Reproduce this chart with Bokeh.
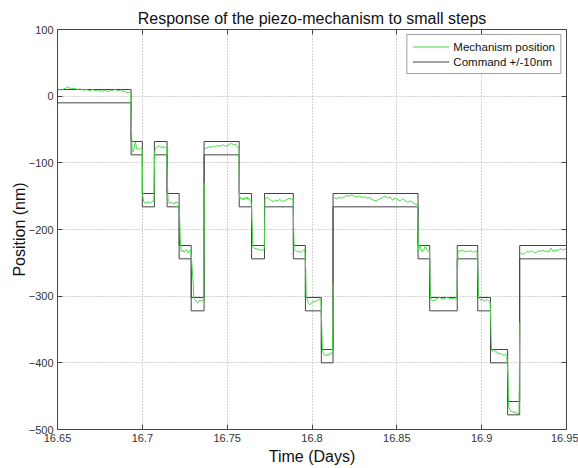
import numpy as np
from bokeh.plotting import figure
from bokeh.models import (LinearAxis, Range1d, FixedTicker, Legend, LegendItem,
                          ColumnDataSource)
from bokeh.embed import file_html
from bokeh.resources import INLINE

# ---------------- data ----------------
title_text = "Response of the piezo-mechanism to small steps"
x_label = "Time (Days)"
y_label = "Position (nm)"
x_ticks = [16.65, 16.7, 16.75, 16.8, 16.85, 16.9, 16.95]
x_tick_labels = ["16.65", "16.7", "16.75", "16.8", "16.85", "16.9", "16.95"]
y_ticks = [100, 0, -100, -200, -300, -400, -500]

# command step boundaries (days) and commanded levels (nm)
step_times = [16.65, 16.6934, 16.7000, 16.7071, 16.7146, 16.7217, 16.7288, 16.7364,
              16.7571, 16.7644, 16.7720, 16.7890, 16.7961, 16.8055, 16.8124, 16.8625,
              16.8694, 16.8856, 16.8977, 16.9052, 16.9153, 16.9224, 16.95]
command_nm = [0, -78, -156, -78, -156, -234, -312, -78, -156, -234, -156, -234,
              -312, -390, -156, -234, -312, -234, -312, -390, -468, -234]
band_nm = 10

mech_t = [
    16.6500, 16.6512, 16.6524, 16.6536, 16.6548, 16.6560, 16.6572, 16.6584, 16.6596, 16.6608,
    16.6620, 16.6632, 16.6644, 16.6656, 16.6668, 16.6680, 16.6692, 16.6704, 16.6716, 16.6728,
    16.6740, 16.6752, 16.6764, 16.6776, 16.6788, 16.6800, 16.6812, 16.6824, 16.6836, 16.6848,
    16.6860, 16.6872, 16.6884, 16.6896, 16.6908, 16.6920, 16.6932,
    16.6937, 16.6940, 16.6943, 16.6950, 16.6956, 16.6960, 16.6964, 16.6970, 16.6976, 16.6982,
    16.6988, 16.6994, 16.6999,
    16.7003, 16.7008, 16.7014, 16.7020, 16.7026, 16.7032, 16.7038, 16.7044, 16.7050, 16.7056,
    16.7062, 16.7068,
    16.7073, 16.7077, 16.7084, 16.7091, 16.7098, 16.7105, 16.7112, 16.7119, 16.7126, 16.7133,
    16.7143,
    16.7148, 16.7152, 16.7158, 16.7164, 16.7170, 16.7176, 16.7182, 16.7188, 16.7194, 16.7200,
    16.7206, 16.7214,
    16.7219, 16.7224, 16.7228, 16.7234, 16.7240, 16.7246, 16.7252, 16.7258, 16.7264, 16.7270,
    16.7276, 16.7284,
    16.7290, 16.7295, 16.7300, 16.7304, 16.7310, 16.7316, 16.7322, 16.7328, 16.7334, 16.7340,
    16.7346, 16.7352, 16.7358, 16.7362,
    16.7365, 16.7366, 16.7368,
    16.7382, 16.7394, 16.7406, 16.7418, 16.7430, 16.7442, 16.7454, 16.7466, 16.7478, 16.7490,
    16.7502, 16.7514, 16.7526, 16.7538, 16.7550, 16.7562, 16.7570,
    16.7573, 16.7575, 16.7581, 16.7587, 16.7593, 16.7599, 16.7605, 16.7611, 16.7617, 16.7623,
    16.7629, 16.7635, 16.7641,
    16.7647, 16.7652, 16.7658, 16.7664, 16.7670, 16.7676, 16.7682, 16.7688, 16.7694, 16.7700,
    16.7706, 16.7712, 16.7718,
    16.7721, 16.7723, 16.7726, 16.7738, 16.7750, 16.7762, 16.7774, 16.7786, 16.7798, 16.7810,
    16.7822, 16.7834, 16.7846, 16.7858, 16.7870, 16.7882, 16.7888,
    16.7892, 16.7895, 16.7897, 16.7903, 16.7909, 16.7915, 16.7921, 16.7927, 16.7933, 16.7939,
    16.7945, 16.7951, 16.7957,
    16.7963, 16.7966, 16.7968, 16.7974, 16.7980, 16.7986, 16.7992, 16.7998, 16.8004, 16.8010,
    16.8016, 16.8022, 16.8028, 16.8034, 16.8040, 16.8046, 16.8052,
    16.8057, 16.8062, 16.8068, 16.8074, 16.8080, 16.8086, 16.8092, 16.8098, 16.8104, 16.8110,
    16.8116, 16.8122,
    16.8125, 16.8127, 16.8129,
    16.8145, 16.8160, 16.8175, 16.8190, 16.8205, 16.8220, 16.8235, 16.8250, 16.8265, 16.8280,
    16.8295, 16.8310, 16.8325, 16.8340, 16.8355, 16.8370, 16.8385, 16.8400, 16.8415, 16.8430,
    16.8445, 16.8460, 16.8475, 16.8490, 16.8505, 16.8520, 16.8535, 16.8550, 16.8565, 16.8580,
    16.8595, 16.8610, 16.8622,
    16.8628, 16.8633, 16.8638, 16.8643, 16.8648, 16.8653, 16.8658, 16.8663, 16.8668, 16.8673,
    16.8680, 16.8686, 16.8692,
    16.8696, 16.8699, 16.8700, 16.8712, 16.8724, 16.8736, 16.8748, 16.8760, 16.8772, 16.8784,
    16.8796, 16.8808, 16.8820, 16.8832, 16.8844, 16.8854,
    16.8858, 16.8861, 16.8862, 16.8872, 16.8882, 16.8892, 16.8902, 16.8912, 16.8922, 16.8932,
    16.8942, 16.8952, 16.8962, 16.8972,
    16.8979, 16.8982, 16.8983, 16.8990, 16.8997, 16.9004, 16.9011, 16.9018, 16.9025, 16.9032,
    16.9039, 16.9046, 16.9050,
    16.9054, 16.9058, 16.9064, 16.9070, 16.9076, 16.9082, 16.9088, 16.9094, 16.9100, 16.9106,
    16.9112, 16.9118, 16.9124, 16.9130, 16.9136, 16.9142, 16.9148,
    16.9155, 16.9159, 16.9160, 16.9166, 16.9172, 16.9178, 16.9184, 16.9190, 16.9196, 16.9202,
    16.9208, 16.9214, 16.9220,
    16.9225, 16.9226, 16.9228,
    16.9241, 16.9253, 16.9265, 16.9277, 16.9289, 16.9301, 16.9313, 16.9325, 16.9337, 16.9349,
    16.9361, 16.9373, 16.9385, 16.9397, 16.9409, 16.9421, 16.9433, 16.9445, 16.9457, 16.9469,
    16.9481, 16.9493, 16.9500,
]
mech_nm = [
    9, 10, 9, 11, 12, 14, 12, 11, 12, 11,
    10, 11, 10, 9, 10, 9, 8, 10, 9, 8,
    9, 8, 7, 9, 8, 7, 9, 8, 10, 9,
    8, 9, 7, 8, 5, 6, 4,
    -60, -82, -84, -80, -72, -69, -76, -80, -79, -80,
    -78, -79, -80,
    -150, -158, -160, -159, -161, -158, -160, -159, -160, -158,
    -157, -158,
    -85, -78, -76, -77, -74, -76, -77, -75, -78, -76,
    -77,
    -130, -158, -160, -161, -159, -160, -162, -160, -161, -158,
    -160, -161,
    -175, -215, -232, -233, -231, -234, -232, -230, -233, -235,
    -232, -231,
    -245, -262, -280, -303, -305, -307, -309, -310, -307, -306,
    -308, -307, -306, -305,
    -130, np.nan, -79,
    -77, -76, -77, -75, -76, -74, -75, -74, -73, -75,
    -74, -72, -71, -73, -72, -76, -79,
    -150, -154, -152, -155, -153, -156, -152, -154, -151, -155,
    -153, -156, -158,
    -190, -226, -227, -229, -228, -230, -229, -230, -231, -230,
    -232, -230, -229,
    -200, -155, -153, -152, -155, -157, -158, -156, -157, -155,
    -157, -158, -156, -154, -153, -155, -154,
    -200, -228, -230, -232, -233, -232, -234, -233, -235, -233,
    -232, -231, -229,
    -260, -300, -303, -307, -311, -313, -312, -310, -308, -309,
    -307, -308, -307, -305, -306, -304, -305,
    -340, -383, -386, -389, -388, -390, -387, -389, -386, -385,
    -387, -384,
    -280, np.nan, -152,
    -154, -152, -153, -151, -149, -150, -148, -150, -151, -150,
    -152, -151, -153, -152, -155, -157, -156, -154, -152, -150,
    -153, -151, -156, -153, -155, -157, -154, -157, -159, -157,
    -160, -162, -163,
    -232, -226, -224, -230, -233, -231, -232, -228, -224, -227,
    -232, -233, -231,
    -270, -302, -305, -307, -306, -304, -302, -303, -305, -303,
    -302, -303, -304, -303, -305, -304,
    -260, -232, -232, -233, -231, -232, -234, -232, -233, -232,
    -233, -234, -232, -233,
    -270, -303, -303, -305, -306, -304, -307, -308, -306, -305,
    -307, -308, -310,
    -340, -381, -383, -380, -382, -384, -383, -386, -385, -387,
    -386, -388, -387, -389, -388, -387, -389,
    -420, -465, -466, -470, -473, -472, -474, -475, -473, -476,
    -477, -475, -476,
    -339, np.nan, -235,
    -237, -236, -233, -234, -232, -233, -235, -234, -232, -233,
    -231, -233, -232, -234, -228, -233, -231, -232, -230, -229,
    -231, -229, -230,
]

# ---------------- figure ----------------
FONT = "Liberation Sans"
X0, X1, Y0, Y1 = 16.65, 16.95, -500, 100
p = figure(width=578, height=468, output_backend="svg", toolbar_location=None,
           x_range=Range1d(X0, X1), y_range=Range1d(Y0, Y1),
           min_border_left=57, min_border_right=12, min_border_top=29, min_border_bottom=39)
p.background_fill_color = "white"
p.border_fill_color = "white"
p.outline_line_color = "#444444"
p.outline_line_width = 1

p.title.text = title_text
p.title.align = "center"
p.title.text_font = FONT
p.title.text_font_size = "16px"
p.title.text_font_style = "normal"
p.title.text_color = "#111111"
p.title.standoff = 6
p.title.offset = 0

# command band lines
upper = [c + band_nm for c in command_nm]
lower = [c - band_nm for c in command_nm]
r_cmd = p.step(step_times, upper + [upper[-1]], mode="after", line_color="#444444", line_width=1)
p.step(step_times, lower + [lower[-1]], mode="after", line_color="#444444", line_width=1)

src = ColumnDataSource(dict(t=mech_t, v=mech_nm))
r_mech = p.line("t", "v", source=src, line_color="#45dc45", line_width=1)

# axes styling
for ax in (p.xaxis[0], p.yaxis[0]):
    ax.major_tick_in = 5
    ax.major_tick_out = 0
    ax.minor_tick_line_color = None
    ax.axis_line_color = "#444444"
    ax.major_tick_line_color = "#444444"
    ax.major_label_text_font = FONT
    ax.major_label_text_font_size = "11px"
    ax.major_label_text_color = "#333333"
    ax.major_label_standoff = 4
    ax.axis_label_text_font = FONT
    ax.axis_label_text_font_size = "16px"
    ax.axis_label_text_font_style = "normal"
    ax.axis_label_text_color = "#111111"

p.xaxis[0].axis_label = x_label
p.yaxis[0].axis_label = y_label
p.xaxis[0].axis_label_standoff = 3
p.yaxis[0].axis_label_standoff = -2
p.xaxis[0].ticker = FixedTicker(ticks=x_ticks)
p.yaxis[0].ticker = FixedTicker(ticks=y_ticks)
p.xaxis[0].major_label_overrides = dict(zip(x_ticks, x_tick_labels))

# mirrored ticks on top and right (box on)
ax_r = LinearAxis(ticker=FixedTicker(ticks=y_ticks), major_label_text_font_size="0px",
                  major_tick_in=5, major_tick_out=0, minor_tick_line_color=None,
                  axis_line_color="#444444", major_tick_line_color="#444444",
                  major_label_standoff=0)
ax_t = LinearAxis(ticker=FixedTicker(ticks=x_ticks), major_label_text_font_size="0px",
                  major_tick_in=5, major_tick_out=0, minor_tick_line_color=None,
                  axis_line_color="#444444", major_tick_line_color="#444444",
                  major_label_standoff=0)
ax_r.major_label_text_color = None
ax_t.major_label_text_color = None
p.add_layout(ax_r, "right")
p.add_layout(ax_t, "above")

# grid
p.xgrid.ticker = FixedTicker(ticks=x_ticks)
p.ygrid.ticker = FixedTicker(ticks=y_ticks)
for g in (p.xgrid[0], p.ygrid[0]):
    g.grid_line_color = "#a8a8a8"
    g.grid_line_dash = "1 2"
    g.grid_line_width = 1

legend = Legend(items=[LegendItem(label="Mechanism position", renderers=[r_mech]),
                       LegendItem(label="Command +/-10nm", renderers=[r_cmd])],
                location="top_right")
legend.label_text_font = FONT
legend.label_text_font_size = "11.5px"
legend.label_text_color = "#111111"
legend.label_height = 13
legend.glyph_height = 13
legend.glyph_width = 37
legend.label_standoff = 4
legend.spacing = 2
legend.padding = 5
legend.margin = 5
legend.border_line_color = "#444444"
legend.border_line_width = 1
legend.background_fill_color = "white"
legend.background_fill_alpha = 1
p.add_layout(legend, "center")

open("out.html", "w").write(file_html(p, INLINE))
